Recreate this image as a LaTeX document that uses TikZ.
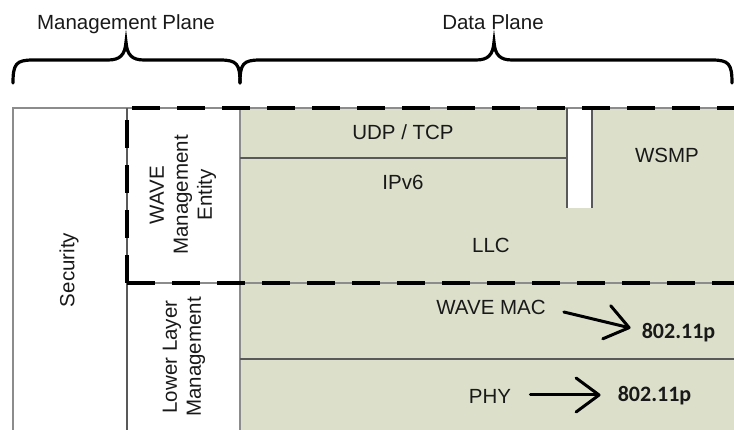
\documentclass[tikz,border=0pt]{standalone}
\usepackage{fontspec}
\setmainfont{Liberation Sans}
\newfontfamily\carl{Carlito}
\usetikzlibrary{arrows.meta}
\definecolor{layergreen}{RGB}{220,224,203}
\definecolor{txt}{RGB}{25,25,25}
\tikzset{
  lbl/.style={inner sep=0pt, text=txt, font=\fontsize{20.5}{24}\selectfont, anchor=base},
  rlbl/.style={inner sep=0pt, text=txt, font=\fontsize{20.5}{24}\selectfont, rotate=90, align=center},
  stdlbl/.style={inner sep=0pt, text=txt, font=\carl\bfseries\fontsize{22}{26}\selectfont, anchor=base},
  thinline/.style={draw=black!45, line width=1.3pt},
  cellline/.style={draw=black!65, line width=1.3pt},
  dashline/.style={draw=black, line width=4pt, dash pattern=on 28pt off 17pt},
  bracestyle/.style={draw=black, line width=3.2pt, line cap=round},
  arr/.style={draw=black, line width=3pt, line cap=round, -{Straight Barb[length=23pt,width=34pt,round]}}
}
\begin{document}
\begin{tikzpicture}[x=1pt,y=-1pt]
\useasboundingbox (0,0) rectangle (734,430);
\clip (0,0) rectangle (734,430);
% green area
\fill[layergreen] (240,108) rectangle (734,430);
\fill[white] (567,108) rectangle (592,208);
% thin lines
\draw[thinline] (13,430) -- (13,108) -- (734,108);
\draw[cellline] (127,108) -- (127,430);
\draw[thinline] (240,108) -- (240,430);
\draw[cellline] (240,158) -- (567,158);
\draw[cellline] (567,108) -- (567,208);
\draw[cellline] (592,108) -- (592,208);
\draw[cellline] (240,359) -- (734,359);
\draw[thinline] (127,283) -- (734,283);
% dashed box
\draw[dashline] (127,283) -- (127,108) -- (734,108);
\draw[dashline] (127,283) -- (734,283);
% braces
\draw[bracestyle] (13,83) .. controls (13,64) and (16,60) .. (33,60) -- (108,60)
  .. controls (120,60) and (125,55) .. (126,42)
  .. controls (127,55) and (132,60) .. (144,60) -- (220,60)
  .. controls (237,60) and (240,64) .. (240,83);
\draw[bracestyle] (240,83) .. controls (240,64) and (243,60) .. (260,60) -- (476,60)
  .. controls (488,60) and (493,55) .. (494,42)
  .. controls (495,55) and (500,60) .. (512,60) -- (712,60)
  .. controls (729,60) and (732,64) .. (732,83);
% labels
\node[lbl] (mp) at (126,30) {Management Plane};
\node[lbl] (dp) at (493,30) {Data Plane};
\node[rlbl] (sec) at (69,270) {Security};
\node[rlbl] (wme) at (183,195) {WAVE\\Management\\Entity};
\node[rlbl] (llm) at (184,357) {Lower Layer\\Management};
\node[lbl] (udp) at (403,140) {UDP / TCP};
\node[lbl] (ipv6) at (403,190) {IPv6};
\node[lbl] (wsmp) at (667,163) {WSMP};
\node[lbl] (llc) at (491,253) {LLC};
\node[lbl] (mac) at (491,315) {WAVE MAC};
\node[lbl] (phy) at (490,403) {PHY};
\node[stdlbl] (p1) at (678.5,339) {802.11p};
\node[stdlbl] (p2) at (654.5,402) {802.11p};
% arrows
\draw[arr] ([shift={(18,-3)}]mac.base east) -- ([shift={(-11,-11)}]p1.base west);
\draw[arr] ([shift={(19,-8)}]phy.base east) -- ([shift={(-17,-7)}]p2.base west);
\end{tikzpicture}
\end{document}
